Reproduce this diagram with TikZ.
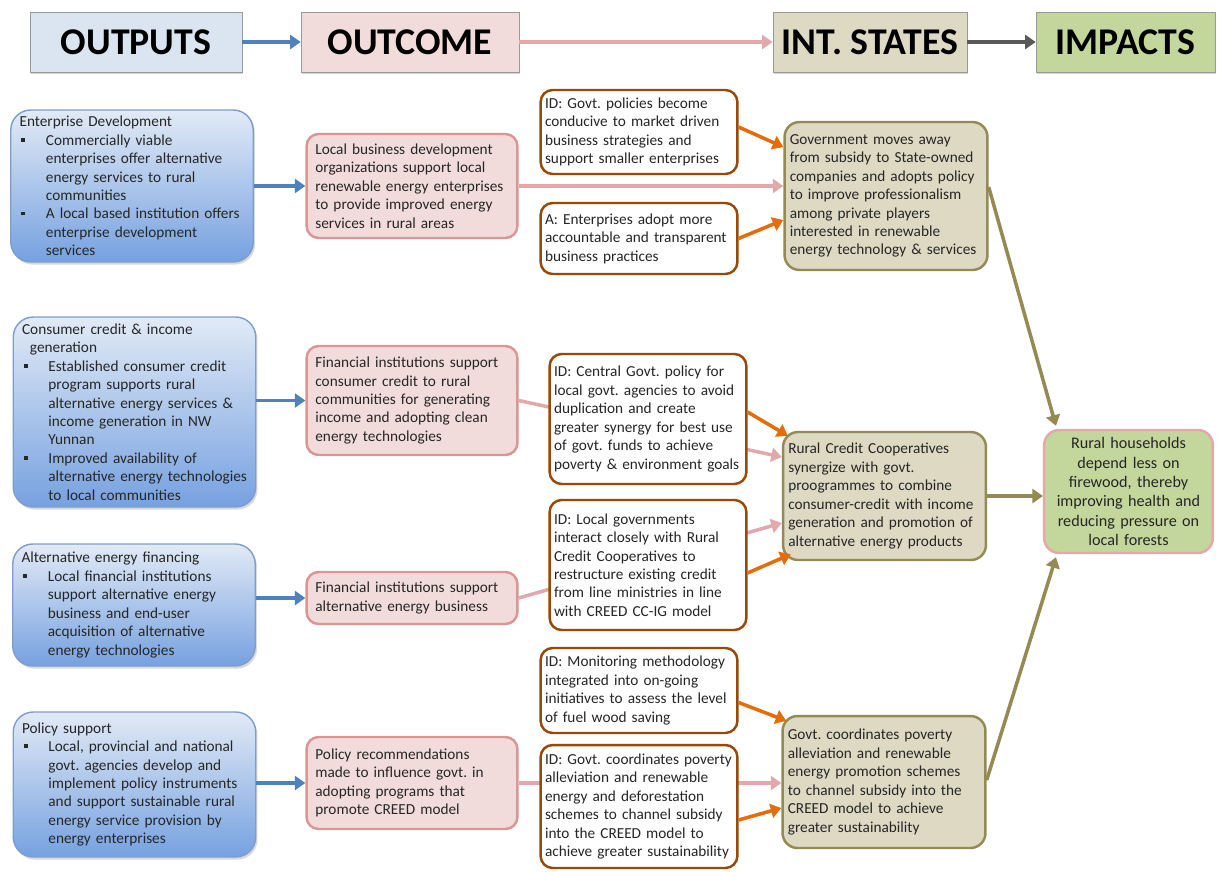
\documentclass[tikz,border=0pt]{standalone}
\usepackage{fontspec}
\setmainfont{Carlito}
\usetikzlibrary{positioning}
\usetikzlibrary{shapes}
\usetikzlibrary{arrows.meta}
\usetikzlibrary{shadows}
\usetikzlibrary{backgrounds}
\definecolor{txt}{HTML}{262626}
\definecolor{hblue}{HTML}{DBE5F1}
\definecolor{hpink}{HTML}{F2DCDB}
\definecolor{hkhaki}{HTML}{DDD9C3}
\definecolor{hgreen}{HTML}{C3D69B}
\definecolor{bluetop}{HTML}{E2EAF6}
\definecolor{bluebot}{HTML}{76A1E0}
\definecolor{blueline}{HTML}{7C9ECB}
\definecolor{pinkline}{HTML}{D99694}
\definecolor{pinkarr}{HTML}{E2A9AC}
\definecolor{brown}{HTML}{984807}
\definecolor{olive}{HTML}{948A54}
\definecolor{orange}{HTML}{E46C0A}
\definecolor{barr}{HTML}{4F81BD}
\definecolor{darkarr}{HTML}{595959}
\newcommand{\bl}{\makebox[15pt][l]{\hspace{1pt}\rule[2pt]{2.2pt}{2.2pt}}}
\newcommand{\ind}{\hspace*{15pt}}
\tikzstyle{H} = [rectangle,draw=gray!80,minimum height=1.2cm,text=black,font=\bfseries\fontsize{21.5}{26}\selectfont,drop shadow={opacity=0.35,shadow xshift=0.8pt,shadow yshift=-1pt}]
\tikzstyle{O} = [rectangle,rounded corners=0.4cm,draw=blueline,line width=0.8pt,top color=bluetop,bottom color=bluebot,text=txt,text width=128pt,inner xsep=5pt,align=left,font=\frenchspacing\fontsize{8.7}{10.5}\selectfont,drop shadow={opacity=0.3,shadow xshift=1pt,shadow yshift=-1.5pt}]
\tikzstyle{C} = [rectangle,rounded corners=0.24cm,draw=pinkline,line width=1.4pt,fill=hpink,text=txt,text width=110pt,inner xsep=5pt,align=left,font=\frenchspacing\fontsize{8.7}{10.5}\selectfont]
\tikzstyle{A} = [rectangle,rounded corners=0.24cm,draw=brown,line width=1.4pt,fill=white,text=txt,text width=107pt,inner xsep=2.5pt,align=left,font=\frenchspacing\fontsize{8.7}{10.5}\selectfont]
\tikzstyle{S} = [rectangle,rounded corners=0.3cm,draw=olive,line width=1.4pt,fill=hkhaki,text=txt,text width=109.5pt,inner xsep=3pt,align=left,font=\frenchspacing\fontsize{8.7}{10.5}\selectfont]
\tikzstyle{I} = [rectangle,rounded corners=0.3cm,draw=pinkarr,line width=1.4pt,fill=hgreen,text=black!85,text width=90pt,inner xsep=3pt,align=center,font=\fontsize{9.2}{11}\selectfont]
\tikzstyle{ba} = [-{Triangle[length=6pt,width=8pt]},line width=2.2pt,draw=barr]
\tikzstyle{pa} = [-{Triangle[length=6pt,width=8pt]},line width=2pt,draw=pinkarr]
\tikzstyle{oa} = [-{Triangle[length=6pt,width=8pt]},line width=2pt,draw=orange]
\tikzstyle{ka} = [-{Triangle[length=6pt,width=8pt]},line width=2pt,draw=olive]
\tikzstyle{da} = [-{Triangle[length=6pt,width=8pt]},line width=2.2pt,draw=darkarr]

\begin{document}
\begin{tikzpicture}[x=0.02cm,y=-0.02cm]
	\useasboundingbox (0,0) rectangle (1217,872);
	
	\node [H,fill=hblue,minimum width=4.24cm] (h1) at(136,42) {OUTPUTS};
	\node [H,fill=hpink,minimum width=4.36cm] (h2) at(410,42) {OUTCOME};
	\node [H,fill=hkhaki,minimum width=3.88cm] (h3) at(870,42) {INT. STATES};
	\node [H,fill=hgreen,minimum width=3.58cm] (h4) at(1125.5,42) {IMPACTS};
	\draw [ba] (h1) -- (h2) ;
	\draw [pa] (h2) -- (h3) ;
	\draw [da] (h3) -- (h4) ;
	%%%%%%%%%%%%%%%
	\node [O,minimum height=3.04cm] (l1) at(132,186) {Enterprise Development\\
	\bl Commercially viable\\ \ind enterprises offer alternative\\ \ind energy services to rural\\ \ind communities\\
	\bl A local based institution offers\\ \ind enterprise development\\ \ind services};
	\node [O,minimum height=3.8cm] (l2) at(134.5,412) {Consumer credit \& income\\ \hspace*{4.5pt}generation\\
	\bl Established consumer credit\\ \ind program supports rural\\ \ind alternative energy services \&\\ \ind income generation in NW\\ \ind Yunnan\\
	\bl Improved availability of\\ \ind alternative energy technologies\\ \ind to local communities};
	\node [O,minimum height=2.44cm] (l3) at(134,605) {Alternative energy financing\\
	\bl Local financial institutions\\ \ind support alternative energy\\ \ind business and end-user\\ \ind acquisition of alternative\\ \ind energy technologies};
	\node [O,minimum height=2.9cm] (l4) at(134.5,784.5) {Policy support\\
	\bl Local, provincial and national\\ \ind govt. agencies develop and\\ \ind implement policy instruments\\ \ind and support sustainable rural\\ \ind energy service provision by\\ \ind energy enterprises};
	%%%%%%%%%%%%%%%
	\node [C,minimum height=2.08cm] (c1) at(412,186) {Local business development\\ organizations support local\\ renewable energy enterprises\\ to provide improved energy\\ services in rural areas};
	\node [C,minimum height=2.18cm] (c2) at(412,400.5) {Financial institutions support\\ consumer credit to rural\\ communities for generating\\ income and adopting clean\\ energy technologies};
	\node [C,minimum height=1.04cm] (c3) at(412,598) {Financial institutions support\\ alternative energy business};
	\node [C,minimum height=1.84cm] (c4) at(412,783) {Policy recommendations\\ made to influence govt. in\\ adopting programs that\\ promote CREED model};
	\draw [ba] (l1.east |- c1.west) -- (c1.west) ;
	\draw [ba] (l2.east |- c2.west) -- (c2.west) ;
	\draw [ba] (l3.east |- c3.west) -- (c3.west) ;
	\draw [ba] (l4.east |- c4.west) -- (c4.west) ;
	%%%%%%%%%%%%%%%
	\node [A,minimum height=1.68cm] (a1) at(639,132) {ID: Govt. policies become\\ conducive to market driven\\ business strategies and\\ support smaller enterprises};
	\node [A,minimum height=1.42cm] (a2) at(639,238.5) {A: Enterprises adopt more\\ accountable and transparent\\ business practices};
	\node [A,minimum height=2.6cm] (a3) at(648,419) {ID: Central Govt. policy for\\ local govt. agencies to avoid\\ duplication and create\\ greater synergy for best use\\ of govt. funds to achieve\\ poverty \& environment goals};
	\node [A,minimum height=2.6cm] (a4) at(648,565) {ID: Local governments\\ interact closely with Rural\\ Credit Cooperatives to\\ restructure existing credit\\ from line ministries in line\\ with CREED CC-IG model};
	\node [A,minimum height=1.7cm] (a5) at(639,690.5) {ID: Monitoring methodology\\ integrated into on-going\\ initiatives to assess the level\\ of fuel wood saving};
	\node [A,minimum height=2.46cm] (a6) at(639,806.5) {ID: Govt. coordinates poverty\\ alleviation and renewable\\ energy and deforestation\\ schemes to channel subsidy\\ into the CREED model to\\ achieve greater sustainability};
	%%%%%%%%%%%%%%%
	\node [S,minimum height=2.96cm] (s1) at(886,196) {Government moves away\\ from subsidy to State-owned\\ companies and adopts policy\\ to improve professionalism\\ among private players\\ interested in renewable\\ energy technology \& services};
	\node [S,minimum height=2.56cm] (s2) at(884.5,496) {Rural Credit Cooperatives\\ synergize with govt.\\ proogrammes to combine\\ consumer-credit with income\\ generation and promotion of\\ alternative energy products};
	\node [S,minimum height=2.64cm] (s3) at(884,782) {Govt. coordinates poverty\\ alleviation and renewable\\ energy promotion schemes\\ to channel subsidy into the\\ CREED model to achieve\\ greater sustainability};
	\node [I,minimum height=2.46cm] (im) at(1128.5,491.5) {Rural households\\ depend less on\\ firewood, thereby\\ improving health and\\ reducing pressure on\\ local forests};
	%%%%%%%%%%%%%%%
	\draw [pa] (c1.east) -- (s1.west |- c1.east) ;
	\begin{scope}[on background layer]
		\draw [pa] (c2.east) -- ([yshift=0.78cm]s2.west) ;
		\draw [pa] (c3.east) -- ([yshift=-0.54cm]s2.west) ;
		\draw [pa] (c4.east) -- (s3.west |- c4.east) ;
	\end{scope}
	\draw [oa] ([yshift=0.1cm]a1.east) -- ([yshift=0.98cm]s1.west) ;
	\draw [oa] (a2.east) -- ([yshift=-0.48cm]s1.west) ;
	\draw [oa] ([yshift=0.14cm]a3.east) -- ([shift={(0.12cm,-0.1cm)}]s2.north west) ;
	\draw [oa] ([yshift=-0.16cm]a4.east) -- ([shift={(0.18cm,0.14cm)}]s2.south west) ;
	\draw [oa] ([yshift=-0.24cm]a5.east) -- ([shift={(0.1cm,-0.12cm)}]s3.north west) ;
	\draw [oa] ([yshift=-0.27cm]a6.east) -- ([yshift=-0.52cm]s3.west) ;
	%%%%%%%%%%%%%%%
	\draw [ka] ([yshift=0.18cm]s1.east) -- ([shift={(0.26cm,0.06cm)}]im.north west) ;
	\draw [ka] (s2.east) -- (im.west |- s2.east) ;
	\draw [ka] ([yshift=0.04cm]s3.east) -- ([shift={(0.26cm,-0.06cm)}]im.south west) ;
\end{tikzpicture}
\end{document}
